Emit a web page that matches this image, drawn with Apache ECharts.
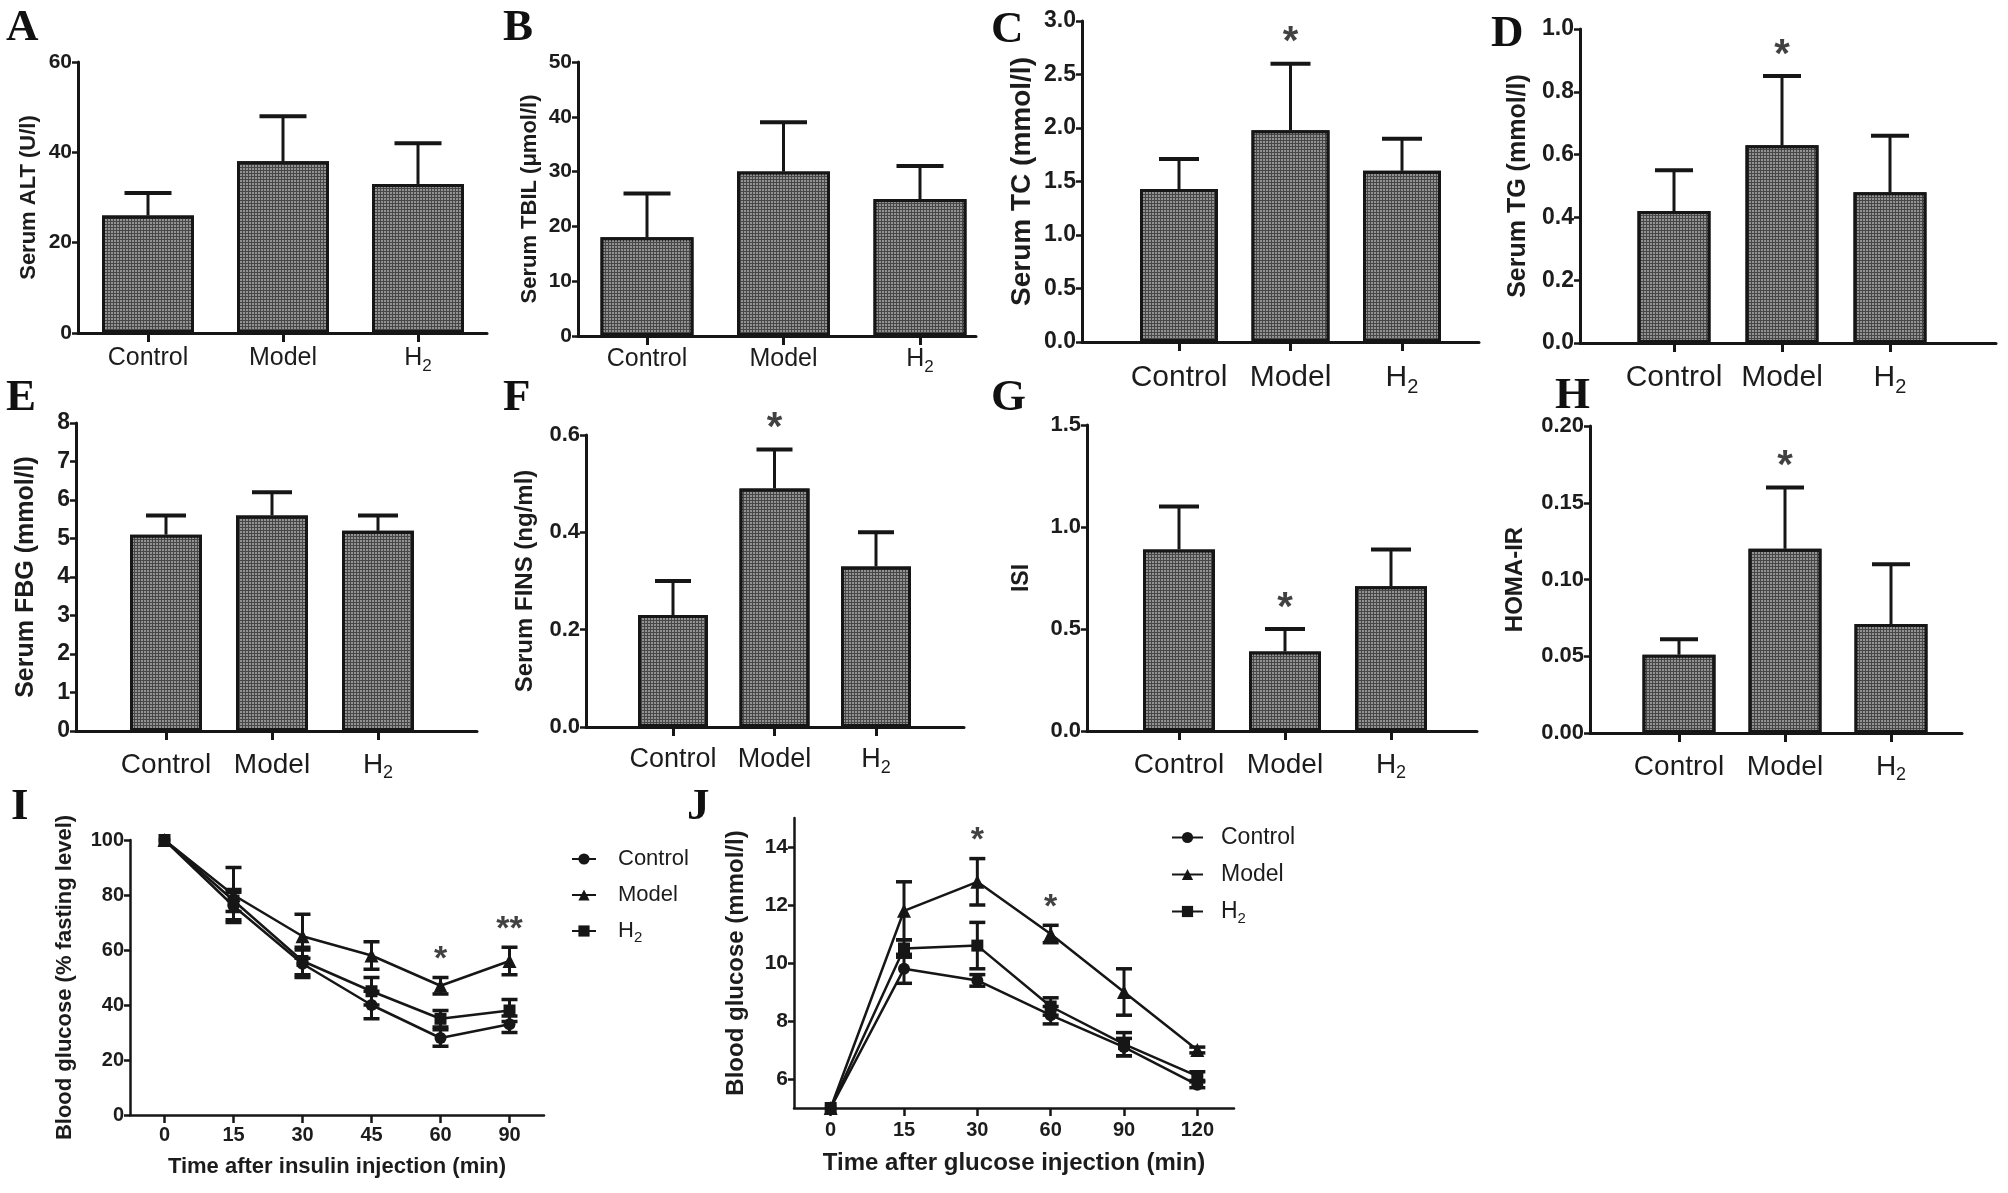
<!DOCTYPE html>
<html><head><meta charset="utf-8">
<script src="https://cdn.jsdelivr.net/npm/echarts@6/dist/echarts.min.js"></script>
<style>html,body{margin:0;padding:0;background:#fff}#c{width:2008px;height:1193px}</style>
</head><body><div id="c"></div>
<script>
// ---------------- DATA ----------------
const groups = ['Control', 'Model', 'H2'];

const altMean  = [26, 38, 33];      const altUpper  = [31, 48, 42];
const tbilMean = [18, 30, 25];      const tbilUpper = [26, 39, 31];
const tcMean   = [1.43, 1.98, 1.6]; const tcUpper   = [1.71, 2.6, 1.9];
const tgMean   = [0.42, 0.63, 0.48];const tgUpper   = [0.55, 0.85, 0.66];
const fbgMean  = [5.1, 5.6, 5.2];   const fbgUpper  = [5.6, 6.2, 5.6];
const finsMean = [0.23, 0.49, 0.33];const finsUpper = [0.30, 0.57, 0.40];
const isiMean  = [0.89, 0.39, 0.71];const isiUpper  = [1.10, 0.50, 0.89];
const homaMean = [0.051, 0.12, 0.071]; const homaUpper = [0.061, 0.16, 0.11];

const noStars  = ['', '', ''];
const modelStar = ['', '*', ''];

// Insulin tolerance test (I)
const itTimes     = ['0', '15', '30', '45', '60', '90'];
const itControl   = [100, 76, 55, 40, 28, 33];
const itControlSd = [0, 5, 5, 5, 3, 3];
const itModel     = [100, 80, 65, 58, 47, 56];
const itModelSd   = [0, 10, 8, 5, 3, 5];
const itH2        = [100, 78, 56, 45, 35, 38];
const itH2Sd      = [0, 4, 5, 5, 3, 4];
const itStars     = ['', '', '', '', '*', '**'];
const itYTicks    = [0, 20, 40, 60, 80, 100];

// Glucose tolerance test (J)
const gtTimes     = ['0', '15', '30', '60', '90', '120'];
const gtControl   = [5, 9.8, 9.4, 8.2, 7.1, 5.8];
const gtControlSd = [0, 0.5, 0.2, 0.3, 0.3, 0.1];
const gtModel     = [5, 11.8, 12.8, 11.0, 9.0, 7.0];
const gtModelSd   = [0, 1.0, 0.8, 0.3, 0.8, 0.1];
const gtH2        = [5, 10.5, 10.6, 8.5, 7.2, 6.1];
const gtH2Sd      = [0, 0.3, 0.8, 0.3, 0.4, 0.15];
const gtStars     = ['', '', '*', '*', '', ''];
const gtYTicks    = [6, 8, 10, 12, 14];

// ---------------- PANEL DEFINITIONS ----------------
const barPanels = [
  {letter:'A', yName:'Serum ALT (U/l)',      mean:altMean,  upper:altUpper,  stars:noStars,   yMax:60,  yStep:20,   digits:0},
  {letter:'B', yName:'Serum TBIL (\u03bcmol/l)', mean:tbilMean, upper:tbilUpper, stars:noStars, yMax:50, yStep:10, digits:0},
  {letter:'C', yName:'Serum TC (mmol/l)',    mean:tcMean,   upper:tcUpper,   stars:modelStar, yMax:3,   yStep:0.5,  digits:1},
  {letter:'D', yName:'Serum TG (mmol/l)',    mean:tgMean,   upper:tgUpper,   stars:modelStar, yMax:1,   yStep:0.2,  digits:1},
  {letter:'E', yName:'Serum FBG (mmol/l)',   mean:fbgMean,  upper:fbgUpper,  stars:noStars,   yMax:8,   yStep:1,    digits:0},
  {letter:'F', yName:'Serum FINS (ng/ml)',   mean:finsMean, upper:finsUpper, stars:modelStar, yMax:0.6, yStep:0.2,  digits:1},
  {letter:'G', yName:'ISI',                  mean:isiMean,  upper:isiUpper,  stars:modelStar, yMax:1.5, yStep:0.5,  digits:1},
  {letter:'H', yName:'HOMA-IR',              mean:homaMean, upper:homaUpper, stars:modelStar, yMax:0.2, yStep:0.05, digits:2}
];

// layout (pixels) for each bar panel
const barLayout = [
  {left:78,   right:487,  top:62,  bottom:333, c1:148,  c3:418,  barW:92, cap:47, catFont:25, catCY:358, tickFont:21, nameFont:22, nameGap:38, L:[6,28]},
  {left:578,  right:976,  top:62,  bottom:336, c1:647,  c3:920,  barW:93, cap:47, catFont:25, catCY:359, tickFont:21, nameFont:22, nameGap:37, L:[503,28]},
  {left:1082, right:1479, top:21,  bottom:342, c1:1179, c3:1402, barW:78, cap:40, catFont:30, catCY:378, tickFont:23, nameFont:28, nameGap:46, L:[991,30]},
  {left:1580, right:1996, top:29,  bottom:343, c1:1674, c3:1890, barW:73, cap:38, catFont:30, catCY:378, tickFont:23, nameFont:25, nameGap:49, L:[1491,34]},
  {left:76,   right:477,  top:423, bottom:731, c1:166,  c3:378,  barW:72, cap:40, catFont:28, catCY:765, tickFont:23, nameFont:25, nameGap:37, L:[6,398]},
  {left:586,  right:964,  top:435, bottom:727, c1:673,  c3:876,  barW:70, cap:36, catFont:27, catCY:760, tickFont:22, nameFont:24, nameGap:49, L:[503,398]},
  {left:1087, right:1477, top:425, bottom:731, c1:1179, c3:1391, barW:72, cap:40, catFont:28, catCY:765, tickFont:22, nameFont:23, nameGap:54, L:[991,398]},
  {left:1590, right:1962, top:426, bottom:733, c1:1679, c3:1891, barW:73, cap:38, catFont:28, catCY:767, tickFont:22, nameFont:24, nameGap:63, L:[1555,396]}
];

const linePanels = [
  {letter:'I', cats:itTimes, yMin:0, yMax:100, yTicks:itYTicks,
   yName:'Blood glucose (% fasting level)', xName:'Time after insulin injection (min)',
   lines:[{name:'Control', mean:itControl, sd:itControlSd, symbol:'circle'},
          {name:'Model',   mean:itModel,   sd:itModelSd,   symbol:'triangle'},
          {name:'H2',      mean:itH2,      sd:itH2Sd,      symbol:'rect'}],
   stars:itStars},
  {letter:'J', cats:gtTimes, yMin:5, yMax:15, yTicks:gtYTicks,
   yName:'Blood glucose (mmol/l)', xName:'Time after glucose injection (min)',
   lines:[{name:'Control', mean:gtControl, sd:gtControlSd, symbol:'circle'},
          {name:'Model',   mean:gtModel,   sd:gtModelSd,   symbol:'triangle'},
          {name:'H2',      mean:gtH2,      sd:gtH2Sd,      symbol:'rect'}],
   stars:gtStars}
];
const lineLayout = [
  {left:130, width:414, top:840, bottom:1115, tickFont:20, xTickFont:20, xMargin:10, nameFont:22, nameGap:54, xNameFont:22, xNameGap:41,
   legend:{left:571, top:848, iw:24, gap:14, font:22, pad:17}, L:[11,807]},
  {left:794, width:440, top:818, bottom:1108, tickFont:21, xTickFont:20, xMargin:12, nameFont:24, nameGap:46, xNameFont:24, xNameGap:43,
   legend:{left:1171, top:826, iw:31, gap:14, font:23, pad:13}, L:[687,807]}
];

// ---------------- STYLE ----------------
const FF = "'Liberation Sans', Arial, Helvetica, sans-serif";
const SERIF = "'Liberation Serif', 'Times New Roman', serif";
const TXT = '#1c1c1c';
const INK = '#161616';
const DECAL = {symbol:'rect', symbolSize:1, color:'#929292', dashArrayX:[2,1], dashArrayY:[2,1], rotation:0};

function groupLabel(name) { return name === 'H2' ? '{n|H}{s|2}' : '{n|' + name + '}'; }
function richFor(fs, padLeft, lhFactor) {
  const lh = Math.round(fs * (lhFactor || 1.45));
  const sub = Math.round(fs * 0.66);
  const drop = Math.round(fs * 0.62);
  return {
    n: {fontSize: fs, fontFamily: FF, color: TXT, lineHeight: lh, padding: [0, 0, 0, padLeft || 0]},
    s: {fontSize: sub, fontFamily: FF, color: TXT, padding: [drop, 0, 0, 0]}
  };
}

const grids = [], xAxes = [], yAxes = [], series = [], titles = [], legends = [];

function letterTitle(t, pos) {
  const fs = 45;
  titles.push({text: t, left: pos[0], top: pos[1] - fs / 2, padding: 0,
    textStyle: {fontFamily: SERIF, fontWeight: 'bold', fontSize: fs, color: '#111'}});
}

// ---------------- BAR PANELS ----------------
barPanels.forEach((p, i) => {
  const L = barLayout[i];
  grids.push({left: L.left, top: L.top, width: L.right - L.left, height: L.bottom - L.top, containLabel: false, outerBoundsMode: 'none'});
  const sp = (L.c3 - L.c1) / 2;
  const xmin = 1 - (L.c1 - L.left) / sp;
  const xmax = 3 + (L.right - L.c3) / sp;
  const lh = Math.round(L.catFont * 1.45);
  xAxes.push({
    gridIndex: i, type: 'value', min: xmin, max: xmax,
    splitLine: {show: false},
    axisLine: {show: true, onZero: false, lineStyle: {color: INK, width: 3}},
    axisTick: {show: true, customValues: [1, 2, 3], length: 9, lineStyle: {color: INK, width: 3}},
    axisLabel: {show: true, customValues: [1, 2, 3], margin: L.catCY - L.bottom - lh / 2,
      formatter: v => groupLabel(groups[Math.round(v) - 1]), rich: richFor(L.catFont)}
  });
  yAxes.push({
    gridIndex: i, type: 'value', min: 0, max: p.yMax, interval: p.yStep,
    name: p.yName, nameLocation: 'middle', nameGap: L.nameGap,
    nameTextStyle: {fontFamily: FF, fontWeight: 'bold', fontSize: L.nameFont, color: TXT},
    splitLine: {show: false},
    axisLine: {show: true, lineStyle: {color: INK, width: 3}},
    axisTick: {show: true, length: 6, lineStyle: {color: INK, width: 2.5}},
    axisLabel: {margin: 6, fontFamily: FF, fontWeight: 'bold', fontSize: L.tickFont, color: TXT,
      formatter: v => Number(v).toFixed(p.digits)}
  });
  series.push({
    type: 'bar', xAxisIndex: i, yAxisIndex: i, silent: true, z: 2,
    data: p.mean.map((v, k) => [k + 1, v]), barWidth: L.barW,
    itemStyle: {color: '#474747', borderColor: INK, borderWidth: 3, decal: DECAL}
  });
  series.push({
    type: 'custom', xAxisIndex: i, yAxisIndex: i, silent: true, z: 3,
    data: p.mean.map((v, k) => [k + 1, v, p.upper[k]]),
    encode: {x: 0, y: [1, 2]},
    renderItem: (params, api) => {
      const x = api.value(0);
      const lo = api.coord([x, api.value(1)]);
      const hi = api.coord([x, api.value(2)]);
      return {type: 'group', children: [
        {type: 'line', shape: {x1: lo[0], y1: lo[1], x2: hi[0], y2: hi[1]}, style: {stroke: INK, lineWidth: 3}},
        {type: 'line', shape: {x1: hi[0] - L.cap / 2, y1: hi[1], x2: hi[0] + L.cap / 2, y2: hi[1]}, style: {stroke: INK, lineWidth: 4}}
      ]};
    }
  });
  const starData = [];
  p.stars.forEach((s, k) => { if (s) starData.push({value: [k + 1, p.upper[k]], mark: s}); });
  if (starData.length) {
    series.push({
      type: 'scatter', xAxisIndex: i, yAxisIndex: i, silent: true, z: 4,
      symbolSize: 1, itemStyle: {color: 'rgba(0,0,0,0)'},
      data: starData,
      label: {show: true, position: 'top', distance: 0, formatter: d => d.data.mark,
        fontFamily: FF, fontWeight: 'bold', fontSize: 40, color: '#111'}
    });
  }
  letterTitle(p.letter, L.L);
});

// ---------------- LINE PANELS ----------------
linePanels.forEach((p, j) => {
  const L = lineLayout[j];
  const gi = barPanels.length + j;
  grids.push({left: L.left, top: L.top, width: L.width, height: L.bottom - L.top, containLabel: false, outerBoundsMode: 'none'});
  xAxes.push({
    gridIndex: gi, type: 'category', data: p.cats, boundaryGap: true,
    name: p.xName, nameLocation: 'middle', nameGap: L.xNameGap,
    nameTextStyle: {fontFamily: FF, fontWeight: 'bold', fontSize: L.xNameFont, color: TXT},
    axisLine: {show: true, onZero: false, lineStyle: {color: INK, width: 2.5}},
    axisTick: {show: true, alignWithLabel: true, length: 8, lineStyle: {color: INK, width: 2.5}},
    axisLabel: {show: true, interval: 0, margin: L.xMargin, fontFamily: FF, fontWeight: 'bold', fontSize: L.xTickFont, color: TXT},
    splitLine: {show: false}
  });
  yAxes.push({
    gridIndex: gi, type: 'value', min: p.yMin, max: p.yMax,
    name: p.yName, nameLocation: 'middle', nameGap: L.nameGap,
    nameTextStyle: {fontFamily: FF, fontWeight: 'bold', fontSize: L.nameFont, color: TXT},
    splitLine: {show: false},
    axisLine: {show: true, lineStyle: {color: INK, width: 2.5}},
    axisTick: {show: true, length: 6, customValues: p.yTicks, lineStyle: {color: INK, width: 2.5}},
    axisLabel: {margin: 6, customValues: p.yTicks, fontFamily: FF, fontWeight: 'bold', fontSize: L.tickFont, color: TXT}
  });
  p.lines.forEach(ln => {
    series.push({
      type: 'custom', xAxisIndex: gi, yAxisIndex: gi, silent: true, z: 2,
      data: ln.mean.map((m, k) => [k, m - ln.sd[k], m + ln.sd[k]]).filter((d, k) => ln.sd[k] > 0),
      encode: {x: 0, y: [1, 2]},
      renderItem: (params, api) => {
        const x = api.value(0);
        const lo = api.coord([x, api.value(1)]);
        const hi = api.coord([x, api.value(2)]);
        const h = 8;
        return {type: 'group', children: [
          {type: 'line', shape: {x1: lo[0], y1: lo[1], x2: hi[0], y2: hi[1]}, style: {stroke: INK, lineWidth: 3}},
          {type: 'line', shape: {x1: lo[0] - h, y1: lo[1], x2: lo[0] + h, y2: lo[1]}, style: {stroke: INK, lineWidth: 3.5}},
          {type: 'line', shape: {x1: hi[0] - h, y1: hi[1], x2: hi[0] + h, y2: hi[1]}, style: {stroke: INK, lineWidth: 3.5}}
        ]};
      }
    });
    series.push({
      type: 'line', name: ln.name, xAxisIndex: gi, yAxisIndex: gi, silent: true, z: 3,
      data: ln.mean, symbol: ln.symbol, symbolSize: ln.symbol === 'triangle' ? 14 : 12, showAllSymbol: true,
      lineStyle: {color: INK, width: 2.5}, itemStyle: {color: INK, borderWidth: 0}
    });
  });
  const model = p.lines[1];
  const starData = [];
  p.stars.forEach((s, k) => { if (s) starData.push({value: [k, model.mean[k] + model.sd[k]], mark: s}); });
  series.push({
    type: 'scatter', xAxisIndex: gi, yAxisIndex: gi, silent: true, z: 4,
    symbolSize: 1, itemStyle: {color: 'rgba(0,0,0,0)'}, data: starData,
    label: {show: true, position: 'top', distance: 0, formatter: d => d.data.mark, fontFamily: FF, fontWeight: 'bold', fontSize: 34, color: '#111'}
  });
  legends.push({
    orient: 'vertical', left: L.legend.left, top: L.legend.top, itemWidth: L.legend.iw, itemHeight: 14,
    itemGap: L.legend.gap, selectedMode: false, padding: 0,
    data: p.lines.map(l => l.name),
    formatter: name => groupLabel(name),
    textStyle: {rich: richFor(L.legend.font, L.legend.pad, 1.2)}
  });
  letterTitle(p.letter, L.L);
});

const chart = echarts.init(document.getElementById('c'), null, {renderer: 'canvas'});
chart.setOption({
  backgroundColor: '#ffffff',
  animation: false,
  title: titles,
  legend: legends,
  grid: grids,
  xAxis: xAxes,
  yAxis: yAxes,
  series: series
});
</script>
</body></html>
